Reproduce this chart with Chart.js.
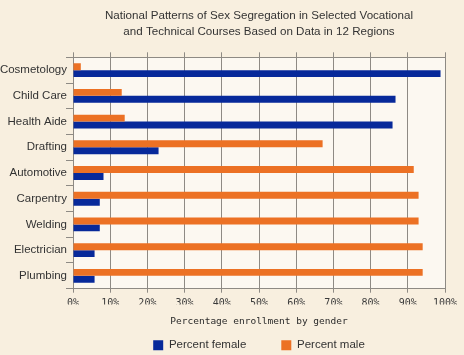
<!DOCTYPE html>
<html>
<head>
<meta charset="utf-8">
<script src="https://cdn.jsdelivr.net/npm/chart.js@4/dist/chart.umd.min.js"></script>
<style>
html,body{margin:0;padding:0;background:#F8EFDF;}
#wrap{width:464px;height:355px;position:relative;}
</style>
</head>
<body>
<div id="wrap"><canvas id="c" width="464" height="355"></canvas></div>
<script>
const titleLines = ["National Patterns of Sex Segregation in Selected Vocational", "and Technical Courses Based on Data in 12 Regions"];
const categories = ["Cosmetology", "Child Care", "Health Aide", "Drafting", "Automotive", "Carpentry", "Welding", "Electrician", "Plumbing"];
const percentFemale = [98.8, 86.7, 85.9, 23.0, 8.2, 7.2, 7.2, 5.8, 5.8];
const percentMale = [2.1, 13.1, 13.9, 67.1, 91.6, 92.9, 92.9, 94.0, 94.0];
const xTickValues = [0, 10, 20, 30, 40, 50, 60, 70, 80, 90, 100];
const xAxisTitle = "Percentage enrollment by gender";

const GRID = '#8E8A84';
const plotBg = {
  id: 'plotBg',
  beforeDraw(chart) {
    const {ctx, chartArea: a} = chart;
    ctx.save();
    ctx.fillStyle = '#FCF8F1';
    ctx.fillRect(a.left, a.top, a.right - a.left, a.bottom - a.top);
    ctx.restore();
  }
};

new Chart(document.getElementById('c'), {
  type: 'bar',
  data: {
    labels: categories,
    datasets: [
      {label: 'Percent male', data: percentMale, backgroundColor: '#EC7124', xAxisID: 'x'},
      {label: 'Percent female', data: percentFemale, backgroundColor: '#07299A', xAxisID: 'x'}
    ]
  },
  plugins: [plotBg],
  options: {
    indexAxis: 'y',
    responsive: false,
    animation: false,
    devicePixelRatio: 1,
    layout: {padding: {left: 0, right: 19, top: 0, bottom: -6}},
    categoryPercentage: 0.54,
    barPercentage: 1,
    scales: {
      x: {
        position: 'bottom',
        min: 0, max: 100,
        afterBuildTicks: s => { s.ticks = xTickValues.map(v => ({value: v})); },
        ticks: {
          callback: v => v + '%',
          font: {family: 'DejaVu Sans Mono', size: 10},
          color: '#3A3A3A',
          padding: 5,
          maxRotation: 0
        },
        grid: {color: GRID, lineWidth: 1, tickLength: 4, drawTicks: true},
        border: {color: GRID, width: 1},
        title: {
          display: true, text: xAxisTitle,
          font: {family: 'DejaVu Sans Mono', size: 9.5},
          color: '#2A2A2A',
          padding: {top: 1.6, bottom: -23.2}
        }
      },
      x2: {
        position: 'top',
        min: 0, max: 100,
        afterBuildTicks: s => { s.ticks = xTickValues.map(v => ({value: v})); },
        ticks: {display: false},
        grid: {color: GRID, drawOnChartArea: false, tickLength: 5},
        border: {color: GRID, width: 1}
      },
      y: {
        afterFit: s => { s.width = 73; },
        ticks: {
          font: {family: 'Liberation Sans', size: 11.5},
          color: '#333333',
          padding: -1
        },
        grid: {color: GRID, drawOnChartArea: false, tickLength: 7, offset: true},
        border: {color: GRID, width: 1}
      }
    },
    plugins: {
      title: {
        display: true,
        fullSize: false,
        text: titleLines,
        font: {family: 'Liberation Sans', size: 11.6, weight: 'normal', lineHeight: 16/11.6},
        color: '#333333',
        padding: {top: 7.5, bottom: 12.8}
      },
      legend: {
        position: 'bottom',
        fullSize: false,
        labels: {
          sort: (a, b) => b.datasetIndex - a.datasetIndex,
          boxWidth: 10, boxHeight: 10,
          font: {family: 'Liberation Sans', size: 11.5},
          color: '#333333',
          padding: 35
        }
      },
      tooltip: {enabled: false}
    }
  }
});
</script>
</body>
</html>
